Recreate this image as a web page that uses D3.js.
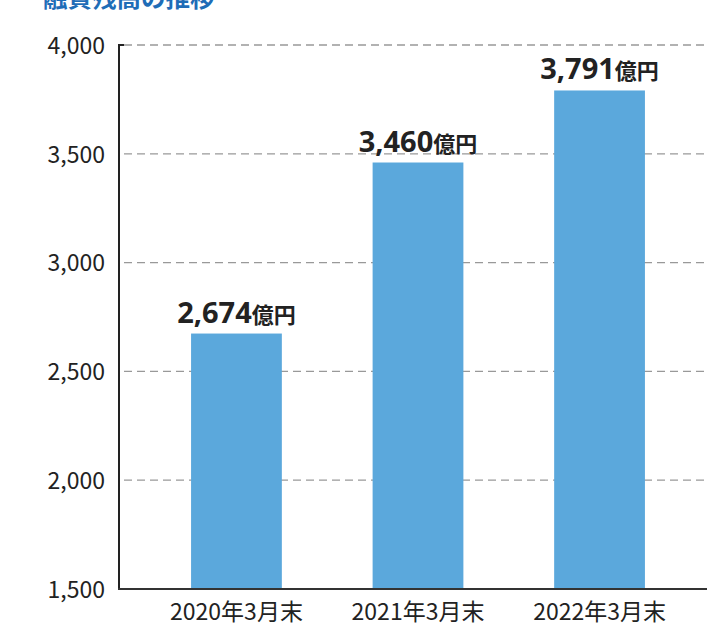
<!DOCTYPE html>
<html><head><meta charset="utf-8">
<script src="https://cdn.jsdelivr.net/npm/d3@7"></script>
<style>
body{margin:0;background:#fff;}
svg{display:block;}
text{font-family:"Noto Sans CJK JP","Noto Sans",sans-serif;}
</style></head>
<body><svg id="c" width="707" height="627"></svg>
<script>
const title = "融資残高の推移";
const categories = ["2020年3月末","2021年3月末","2022年3月末"];
const values = [2674, 3460, 3791];
const yTicks = [1500, 2000, 2500, 3000, 3500, 4000];
const unit = "億円";

const svg = d3.select("#c");
const x = d3.scaleBand().domain(categories).range([119, 717]).paddingInner(0.5).paddingOuter(0.397);
const y = d3.scaleLinear().domain([1500, 4000]).range([589, 45]);

svg.append("text").attr("x", 43).attr("y", 7).attr("fill", "#1f6db7")
  .attr("font-size", 24.5).attr("font-weight", 700).text(title);

// gridlines
svg.append("g").selectAll("line").data(yTicks.filter(d => d > 1500)).join("line")
  .attr("x1", 124).attr("x2", 706).attr("y1", d => y(d)).attr("y2", d => y(d))
  .attr("stroke", "#999").attr("stroke-width", 1.3).attr("stroke-dasharray", "8,5");

// bars
svg.append("g").selectAll("rect").data(values).join("rect")
  .attr("x", (d, i) => x(categories[i])).attr("width", x.bandwidth())
  .attr("y", d => y(d)).attr("height", d => y(1500) - y(d)).attr("fill", "#5ba8dc");

// y axis
const ya = d3.axisLeft(y).tickValues(yTicks).tickSize(0).tickPadding(14).tickFormat(d3.format(","));
const gy = svg.append("g").attr("transform", "translate(119,0)").call(ya);
gy.select(".domain").remove();
gy.selectAll("text").attr("font-size", 23).attr("fill", "#222").attr("dy", "0.36em")
  .attr("font-family", "'Noto Sans','Noto Sans CJK JP',sans-serif");
svg.append("line").attr("x1", 119).attr("x2", 119).attr("y1", 44).attr("y2", 590).attr("stroke", "#222").attr("stroke-width", 2);
svg.append("line").attr("x1", 118).attr("x2", 124).attr("y1", 45).attr("y2", 45).attr("stroke", "#222").attr("stroke-width", 2);
svg.append("line").attr("x1", 118).attr("x2", 707).attr("y1", 589).attr("y2", 589).attr("stroke", "#333").attr("stroke-width", 2.2);

// x labels
const xa = d3.axisBottom(x).tickSize(0).tickPadding(0);
const gx = svg.append("g").attr("transform", "translate(0,589)").call(xa);
gx.select(".domain").remove();
gx.selectAll("text").attr("font-size", 23).attr("fill", "#222").attr("y", 31).attr("dy", 0)
  .attr("font-family", "'Noto Sans CJK JP',sans-serif");

// value labels
const lbl = svg.append("g").selectAll("text").data(values).join("text")
  .attr("x", (d, i) => x(categories[i]) + x.bandwidth() / 2)
  .attr("y", d => y(d) - 11).attr("text-anchor", "middle").attr("fill", "#222");
lbl.append("tspan").attr("font-size", 29).attr("font-weight", 700)
  .attr("font-family", "'Noto Sans',sans-serif").text(d => d3.format(",")(d));
lbl.append("tspan").attr("font-size", 22).attr("font-weight", 700).text(unit);
</script></body></html>
